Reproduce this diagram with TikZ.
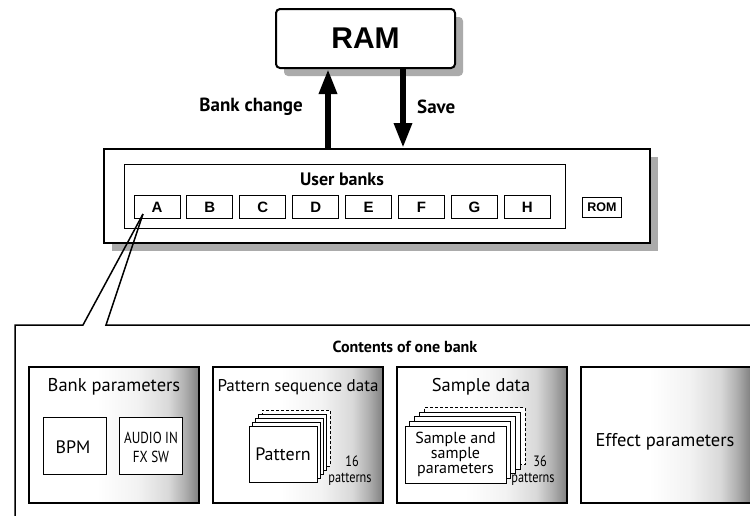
\documentclass[tikz,border=0pt]{standalone}
\usepackage{fontspec}
\setmainfont{PT Sans}
\newfontfamily\helv{Liberation Sans}
\newfontfamily\condf[FakeStretch=0.82]{PT Sans}
\usetikzlibrary{arrows.meta,shadows}
\pgfdeclarehorizontalshading{boxgrad}{100bp}{color(0bp)=(white); color(25bp)=(white); color(45bp)=(white); color(57bp)=(black!5); color(66bp)=(black!15); color(71bp)=(black!32); color(75bp)=(black!50); color(100bp)=(black!50)}
\begin{document}
\begin{tikzpicture}[x=1pt,y=-1pt,
  shadowc/.style={drop shadow={shadow xshift=8pt,shadow yshift=-8pt,fill=black!33,opacity=1}},
  ramnode/.style={draw,line width=2pt,rounded corners=4pt,fill=white,minimum width=179pt,minimum height=59pt,inner sep=0pt,font=\helv\bfseries\fontsize{30}{30}\selectfont,shadowc},
  banknode/.style={draw,line width=2pt,fill=white,minimum width=546pt,minimum height=94pt,inner sep=0pt,shadowc},
  userbox/.style={draw,line width=1pt,minimum width=440.5pt,minimum height=64pt,inner sep=0pt},
  letterbox/.style={draw,line width=1pt,minimum width=46pt,minimum height=23pt,inner sep=0pt,font=\helv\bfseries\fontsize{15}{15}\selectfont},
  rombox/.style={draw,line width=1pt,minimum width=39pt,minimum height=20pt,inner sep=0pt,font=\helv\bfseries\fontsize{12.5}{12.5}\selectfont},
  boldlbl/.style={font=\bfseries\fontsize{16}{16}\selectfont,inner sep=0pt},
  armlbl/.style={font=\bfseries\fontsize{19}{19}\selectfont,inner sep=0pt},
  bigarrow/.style={line width=6pt,-{Triangle[length=25pt,width=17pt]}},
  outline/.style={line width=1.5pt,line join=miter},
  gradbox/.style={draw,line width=1.2pt,shading=boxgrad,minimum width=170pt,minimum height=136pt,inner sep=0pt},
  boxtitle/.style={font=\fontsize{17}{17}\selectfont,inner sep=0pt},
  subbox/.style={draw,line width=1pt,fill=white,minimum width=63pt,minimum height=57pt,inner sep=0pt},
  card/.style={draw,line width=1pt,fill=white,inner sep=0pt},
  dcard/.style={draw,line width=1pt,dashed,dash pattern=on 3pt off 2pt,fill=white,inner sep=0pt},
  condtxt/.style={font=\condf\fontsize{16}{19}\selectfont,inner sep=0pt,align=center},
  cnttxt/.style={font=\condf\fontsize{15}{15}\selectfont,inner sep=0pt}
]
\useasboundingbox (0,0) rectangle (750,515);

% RAM and bank memory
\node[ramnode] (ram) at (365.5,38.5) {RAM};
\node[banknode] (bank) at (377,196) {};
\node[userbox] (user) at (344.75,196) {};
\node[boldlbl,font=\bfseries\fontsize{18}{18}\selectfont] (userlbl) at (342,179) {User banks};
\foreach \l [count=\i from 0] in {A,B,C,D,E,F,G,H}{
  \node[letterbox] (\l) at (157+52.9*\i,207) {\l};
}
\node[rombox] (rom) at (602,207) {ROM};

% arrows
\coordinate (upx) at (328,0);
\coordinate (dnx) at (403,0);
\draw[bigarrow] (bank.north -| upx) -- (ram.south -| upx);
\draw[bigarrow] (ram.south -| dnx) -- (bank.north -| dnx);
\node[armlbl,anchor=east] (bclbl) at (303,107) {Bank change};
\node[armlbl,anchor=west] (savelbl) at (417,107) {Save};

% callout and contents box
\coordinate (tip) at (143,214);
\coordinate (c1) at (83,325);
\coordinate (c2) at (106,325);
\draw[outline] (tip) -- (c1) -- (15,325) -- (15,530);
\draw[outline] (tip) -- (c2) -- (770,325);
\node[boldlbl] (contlbl) at (405,347) {Contents of one bank};

% inner boxes
\node[gradbox] (bp) at (114,435) {};
\node[gradbox] (ps) at (298,435) {};
\node[gradbox] (sd) at (482,435) {};
\node[gradbox] (ep) at (666,435) {};

% Bank parameters
\node[boxtitle,font=\fontsize{18.5}{18.5}\selectfont] (bpt) at (114,387) {Bank parameters};
\node[subbox] (bpm) at (74.5,445.5) {};
\node[font=\fontsize{18}{18}\selectfont,inner sep=0pt] (bpmt) at (73,447) {BPM};
\node[subbox] (aud) at (151,445.5) {};
\node[condtxt] (audt) at (151,447) {AUDIO IN\\FX SW};

% Pattern sequence data
\node[boxtitle] (pst) at (298,387) {Pattern sequence data};
\node[dcard,minimum width=68pt,minimum height=56pt] (p4) at (296,438) {};
\node[card,minimum width=68pt,minimum height=56pt] (p3) at (292.75,442) {};
\node[card,minimum width=68pt,minimum height=56pt] (p2) at (289.5,446) {};
\node[card,minimum width=68pt,minimum height=56pt] (p1) at (286.25,450) {};
\node[card,minimum width=68pt,minimum height=56pt,font=\fontsize{18}{18}\selectfont] (p0) at (283,454) {Pattern};
\node[cnttxt] (n16) at (352,461) {16};
\node[cnttxt] (pat16) at (350,479) {patterns};

% Sample data
\node[boxtitle,font=\fontsize{18.5}{18.5}\selectfont] (sdt) at (481,387) {Sample data};
\node[dcard,minimum width=101pt,minimum height=57pt] (s4) at (474.5,436) {};
\node[card,minimum width=101pt,minimum height=57pt] (s3) at (469.75,440.5) {};
\node[card,minimum width=101pt,minimum height=57pt] (s2) at (465,445) {};
\node[card,minimum width=101pt,minimum height=57pt] (s1) at (460.25,449.5) {};
\node[card,minimum width=101pt,minimum height=57pt,font=\fontsize{16}{15}\selectfont,align=center] (s0) at (455.5,454.5) {Sample and\\sample\\parameters};
\node[cnttxt] (n36) at (540,461) {36};
\node[cnttxt] (pat36) at (533,479) {patterns};

% Effect parameters
\node[font=\fontsize{18.5}{18.5}\selectfont,inner sep=0pt] (ept) at (665,442) {Effect parameters};
\end{tikzpicture}
\end{document}
